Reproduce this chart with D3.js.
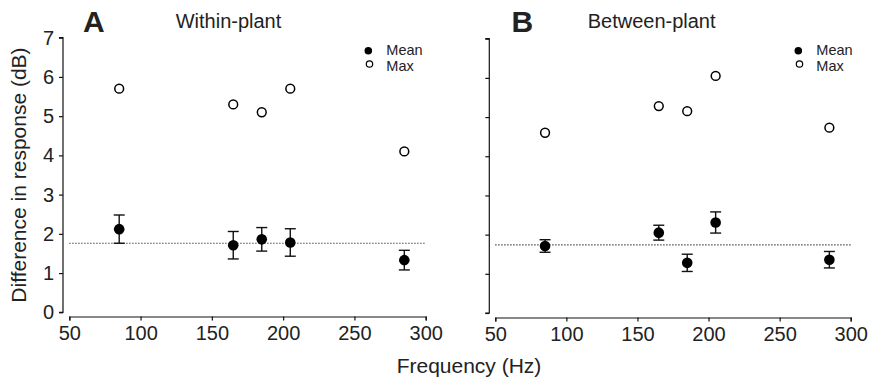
<!DOCTYPE html>
<html>
<head>
<meta charset="utf-8">
<script src="https://cdn.jsdelivr.net/npm/d3@7"></script>
<style>
  body { margin: 0; background: #fff; }
  text { font-family: Arial, "Liberation Sans", sans-serif; fill: #222; }
</style>
</head>
<body>
<div id="chart"></div>
<script>
// data
const freqs = [85, 165, 185, 205, 285];
const withinMax = [5.7, 5.3, 5.1, 5.7, 4.1];
const withinMean = [2.12, 1.71, 1.86, 1.78, 1.33];
const withinErr = [0.36, 0.35, 0.30, 0.35, 0.25];
const withinRef = 1.76;
const betweenMax = [4.6, 5.28, 5.15, 6.05, 4.73];
const betweenMean = [1.71, 2.05, 1.28, 2.31, 1.36];
const betweenErr = [0.16, 0.19, 0.22, 0.27, 0.21];
const betweenRef = 1.74;
const xTicks = [50, 100, 150, 200, 250, 300];
const yTicks = [0, 1, 2, 3, 4, 5, 6, 7];

const W = 869, H = 381;
const svg = d3.select("#chart").append("svg")
  .attr("width", W).attr("height", H);

const panels = [
  { letter: "A", title: "Within-plant", max: withinMax, mean: withinMean, err: withinErr, ref: withinRef,
    x0: 69.3, x1: 425.7, y0: 312.3, y1: 37.7, axisX: 63, axisY: 316.5, showYLabels: true,
    letterX: 83, titleX: 175.7, legX: 368.3 },
  { letter: "B", title: "Between-plant", max: betweenMax, mean: betweenMean, err: betweenErr, ref: betweenRef,
    x0: 495.3, x1: 850.7, y0: 313, y1: 38.7, axisX: 489.3, axisY: 317.5, showYLabels: false,
    letterX: 511.5, titleX: 587.7, legX: 798.3 }
];

panels.forEach(p => {
  const x = d3.scaleLinear().domain([50, 300]).range([p.x0, p.x1]);
  const y = d3.scaleLinear().domain([0, 7]).range([p.y0, p.y1]);
  const g = svg.append("g");

  // y axis
  const yAxis = d3.axisLeft(y).tickValues(yTicks).tickSize(4).tickPadding(5)
    .tickFormat(p.showYLabels ? d3.format("d") : () => "");
  const ya = g.append("g").attr("transform", `translate(${p.axisX},0)`).call(yAxis);
  ya.select(".domain").attr("d", `M-4,${y(0)}H0V${y(7)}H-4`);

  // x axis
  const xAxis = d3.axisBottom(x).tickValues(xTicks).tickSize(4).tickPadding(5);
  g.append("g").attr("transform", `translate(0,${p.axisY})`).call(xAxis);

  g.selectAll(".domain, .tick line").attr("stroke", "#111").attr("stroke-width", 1.2);
  g.selectAll(".tick text").style("font-size", "20px").style("font-family", "Arial, 'Liberation Sans', sans-serif").attr("fill", "#222");

  // dotted reference line
  g.append("line")
    .attr("x1", x(50)).attr("x2", x(300))
    .attr("y1", y(p.ref)).attr("y2", y(p.ref))
    .attr("stroke", "#222").attr("stroke-width", 1.2).attr("stroke-dasharray", "1.2,1.8");

  const idx = d3.range(freqs.length);

  // error bars
  const eb = g.append("g").attr("stroke", "#111").attr("stroke-width", 1.4);
  idx.forEach(i => {
    const cx = x(freqs[i]);
    const top = y(p.mean[i] + p.err[i]), bot = y(p.mean[i] - p.err[i]);
    eb.append("line").attr("x1", cx).attr("x2", cx).attr("y1", top).attr("y2", bot);
    eb.append("line").attr("x1", cx - 5.5).attr("x2", cx + 5.5).attr("y1", top).attr("y2", top);
    eb.append("line").attr("x1", cx - 5.5).attr("x2", cx + 5.5).attr("y1", bot).attr("y2", bot);
  });

  // mean points
  g.selectAll(".mean").data(idx).enter().append("circle")
    .attr("cx", i => x(freqs[i])).attr("cy", i => y(p.mean[i]))
    .attr("r", 5.3).attr("fill", "#000");

  // max points
  g.selectAll(".max").data(idx).enter().append("circle")
    .attr("cx", i => x(freqs[i])).attr("cy", i => y(p.max[i]))
    .attr("r", 4.4).attr("fill", "#fff").attr("stroke", "#000").attr("stroke-width", 1.5);

  // legend
  g.append("circle").attr("cx", p.legX).attr("cy", 50.7).attr("r", 3.8).attr("fill", "#000");
  g.append("circle").attr("cx", p.legX + 1.2).attr("cy", 64).attr("r", 3.2)
    .attr("fill", "#fff").attr("stroke", "#000").attr("stroke-width", 1.2);
  g.append("text").attr("x", p.legX + 18).attr("y", 55).style("font-size", "14.5px").text("Mean");
  g.append("text").attr("x", p.legX + 18).attr("y", 71).style("font-size", "14.5px").text("Max");

  // panel letter and title
  g.append("text").attr("x", p.letterX).attr("y", 31.7)
    .style("font-size", "30px").style("font-weight", "bold").text(p.letter);
  g.append("text").attr("x", p.titleX).attr("y", 27.7)
    .style("font-size", "20px").text(p.title);
});

// axis titles
svg.append("text").attr("x", 469).attr("y", 373.3).attr("text-anchor", "middle")
  .style("font-size", "21px").text("Frequency (Hz)");
svg.append("text").attr("transform", "translate(26,175) rotate(-90)").attr("text-anchor", "middle")
  .style("font-size", "21px").text("Difference in response (dB)");
</script>
</body>
</html>
